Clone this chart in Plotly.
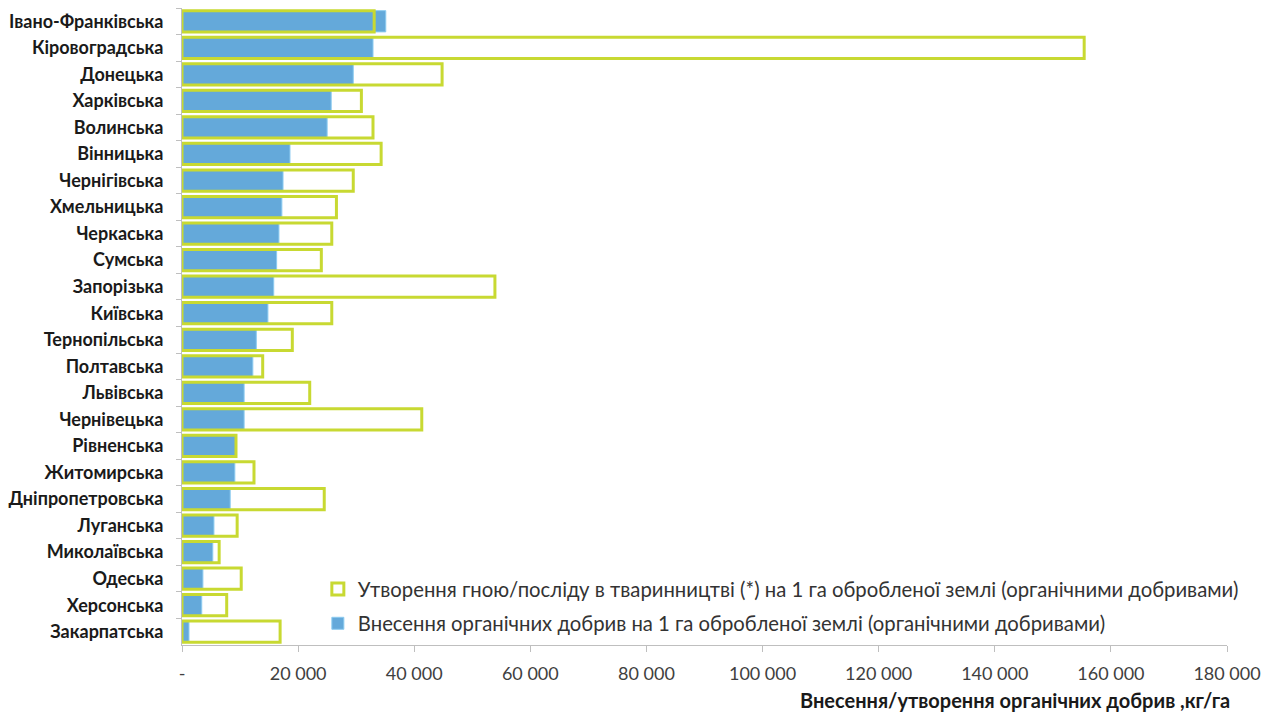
import plotly.graph_objects as go

regions = ["Івано-Франківська", "Кіровоградська", "Донецька", "Харківська", "Волинська",
           "Вінницька", "Чернігівська", "Хмельницька", "Черкаська", "Сумська", "Запорізька",
           "Київська", "Тернопільська", "Полтавська", "Львівська", "Чернівецька", "Рівненська",
           "Житомирська", "Дніпропетровська", "Луганська", "Миколаївська", "Одеська",
           "Херсонська", "Закарпатська"]

manure_formed = [33100, 155400, 44800, 30900, 32900, 34300, 29500, 26600, 25800, 24000,
                 53900, 25800, 19000, 13900, 22000, 41300, 9300, 12400, 24500, 9500,
                 6400, 10200, 7700, 16900]

applied = [35100, 32900, 29500, 25700, 25000, 18600, 17400, 17200, 16700, 16300, 15800,
           14800, 12800, 12200, 10700, 10700, 9300, 9100, 8300, 5500, 5300, 3600, 3400, 1200]

tick_vals = [0, 20000, 40000, 60000, 80000, 100000, 120000, 140000, 160000, 180000]
tick_text = ["-", "20 000", "40 000", "60 000", "80 000", "100 000", "120 000",
             "140 000", "160 000", "180 000"]

name_formed = "Утворення гною/посліду в тваринництві (*) на 1 га обробленої землі (органічними добривами)"
name_applied = "Внесення органічних добрив на 1 га обробленої землі (органічними добривами)"
x_title = "Внесення/утворення органічних добрив ,кг/га"

FONT = "Lato"

fig = go.Figure()
fig.add_trace(go.Bar(
    y=regions, x=applied, orientation="h", name=name_applied,
    legendgroup="a", legendrank=2,
    marker=dict(color="#64A9DA", line=dict(color="#8CCBF0", width=1)),
))
fig.add_trace(go.Bar(
    y=regions, x=manure_formed, orientation="h", name=name_formed,
    legendgroup="f", legendrank=1,
    marker=dict(color="rgba(255,255,255,0)", line=dict(color="#C8D932", width=3)),
))

fig.update_layout(
    barmode="overlay",
    bargap=0.2,
    width=1282, height=713,
    margin=dict(l=182, r=55, t=8, b=68),
    plot_bgcolor="white", paper_bgcolor="white",
    font=dict(family=FONT, color="#404040"),
    showlegend=True,
    legend=dict(
        x=0.13, y=0.119, xanchor="left", yanchor="top",
        traceorder="grouped",
        font=dict(family=FONT, size=20.3, color="#333333"),
        bgcolor="rgba(255,255,255,0)",
        itemwidth=30,
        tracegroupgap=5,
    ),
    xaxis=dict(
        range=[0, 180000],
        tickvals=tick_vals, ticktext=tick_text,
        showgrid=False, zeroline=False,
        showline=True, linecolor="#BFBFBF", linewidth=1,
        ticks="outside", ticklen=6, tickcolor="#BFBFBF",
        ticklabelstandoff=6,
        tickfont=dict(family=FONT, size=18, color="#404040"),
    ),
    yaxis=dict(
        autorange="reversed",
        showgrid=False,
        showline=True, linecolor="#BFBFBF", linewidth=1,
        ticks="outside", ticklen=5, tickcolor="#BFBFBF",
        tickson="boundaries",
        ticklabelstandoff=14,
        tickfont=dict(family=FONT, size=18, color="#1a1a1a", weight="bold"),
    ),
    annotations=[dict(
        text="<b>" + x_title + "</b>", xref="paper", yref="paper",
        x=1.005, y=-0.086, xanchor="right", yanchor="middle", showarrow=False,
        font=dict(family=FONT, size=20, color="#1a1a1a"),
    )],
)

fig.write_html("out.html")
